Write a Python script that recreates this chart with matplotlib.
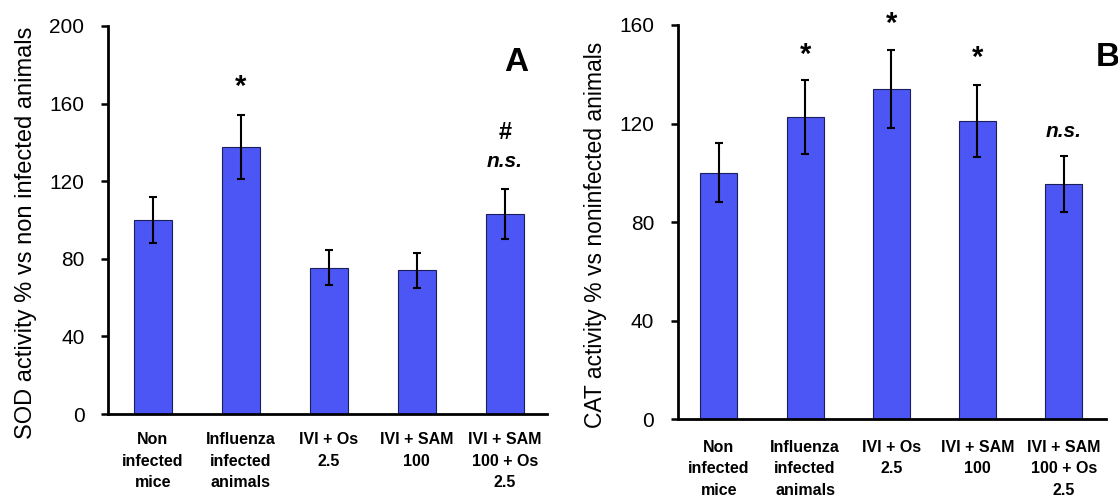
import matplotlib
matplotlib.use("Agg")
import matplotlib.pyplot as plt

plt.rcParams['font.family'] = ['Liberation Sans', 'DejaVu Sans']

categories = ["Non\ninfected\nmice", "Influenza\ninfected\nanimals", "IVI + Os\n2.5",
              "IVI + SAM\n100", "IVI + SAM\n100 + Os\n2.5"]

sod_values = [100, 137.5, 75.5, 74, 103]
sod_errors = [12, 16.5, 9, 9, 13]
sod_marks = ["", "*", "", "", "#\nn.s."]

cat_values = [100, 122.5, 134, 121, 95.5]
cat_errors = [12, 15, 16, 14.5, 11.5]
cat_marks = ["", "*", "*", "*", "n.s."]

bar_color = "#4C56F4"
edge_color = "#1a1f5c"

fig = plt.figure(figsize=(11.18, 4.95), dpi=100)
axA = fig.add_axes([0.0966, 0.1636, 0.3927, 0.784])
axB = fig.add_axes([0.6064, 0.1535, 0.3828, 0.796])

def draw(ax, vals, errs, ymax, ylabel, xlim, lab_coords, lab_size, xpad):
    x = list(range(len(vals)))
    ax.bar(x, vals, width=0.43, color=bar_color, edgecolor=edge_color, linewidth=0.8, zorder=2)
    ax.errorbar(x, vals, yerr=errs, fmt='none', ecolor='black', elinewidth=1.5,
                capsize=2.8, capthick=1.5, zorder=3)
    ax.set_ylim(0, ymax)
    ax.set_xlim(*xlim)
    ax.set_yticks(range(0, ymax + 1, 40))
    ax.spines['top'].set_visible(False)
    ax.spines['right'].set_visible(False)
    ax.spines['left'].set_linewidth(2)
    ax.spines['bottom'].set_linewidth(2)
    ax.tick_params(axis='y', direction='out', length=5, width=1.8, labelsize=15, pad=12)
    ax.tick_params(axis='x', length=0, labelsize=11.5, pad=xpad)
    ax.set_xticks(x)
    ax.set_xticklabels(categories, fontweight='bold', linespacing=1.55)
    ax.set_ylabel(ylabel, fontsize=lab_size)
    ax.yaxis.set_label_coords(*lab_coords)

draw(axA, sod_values, sod_errors, 200, "SOD activity % vs non infected animals",
     (-0.51, 4.48), (-0.162, 0.466), 17, 13)
draw(axB, cat_values, cat_errors, 160, "CAT activity % vs noninfected animals",
     (-0.475, 4.49), (-0.166, 0.467), 16.5, 15)

# significance marks
axA.text(1, 168.5, sod_marks[1], ha='center', va='center', fontsize=21, fontweight='bold')
axA.text(4, 145, "#", ha='center', va='center', fontsize=17, fontweight='bold')
axA.text(4, 130, "n.s.", ha='center', va='center', fontsize=15, fontweight='bold', style='italic')

star_y = [None, 147.8, 160.6, 146.6, None]
for i, m in enumerate(cat_marks):
    if m == "*":
        axB.text(i, star_y[i], m, ha='center', va='center', fontsize=21, fontweight='bold',
                 clip_on=False)
    elif m == "n.s.":
        axB.text(i, 116.8, m, ha='center', va='center', fontsize=15, fontweight='bold', style='italic')

fig.text(516 / 1118, 1 - 63 / 495, "A", ha='center', va='center', fontsize=24, fontweight='bold')
fig.text(1108 / 1118, 1 - 57 / 495, "B", ha='center', va='center', fontsize=24, fontweight='bold')

fig.savefig("out.png", dpi=100)
